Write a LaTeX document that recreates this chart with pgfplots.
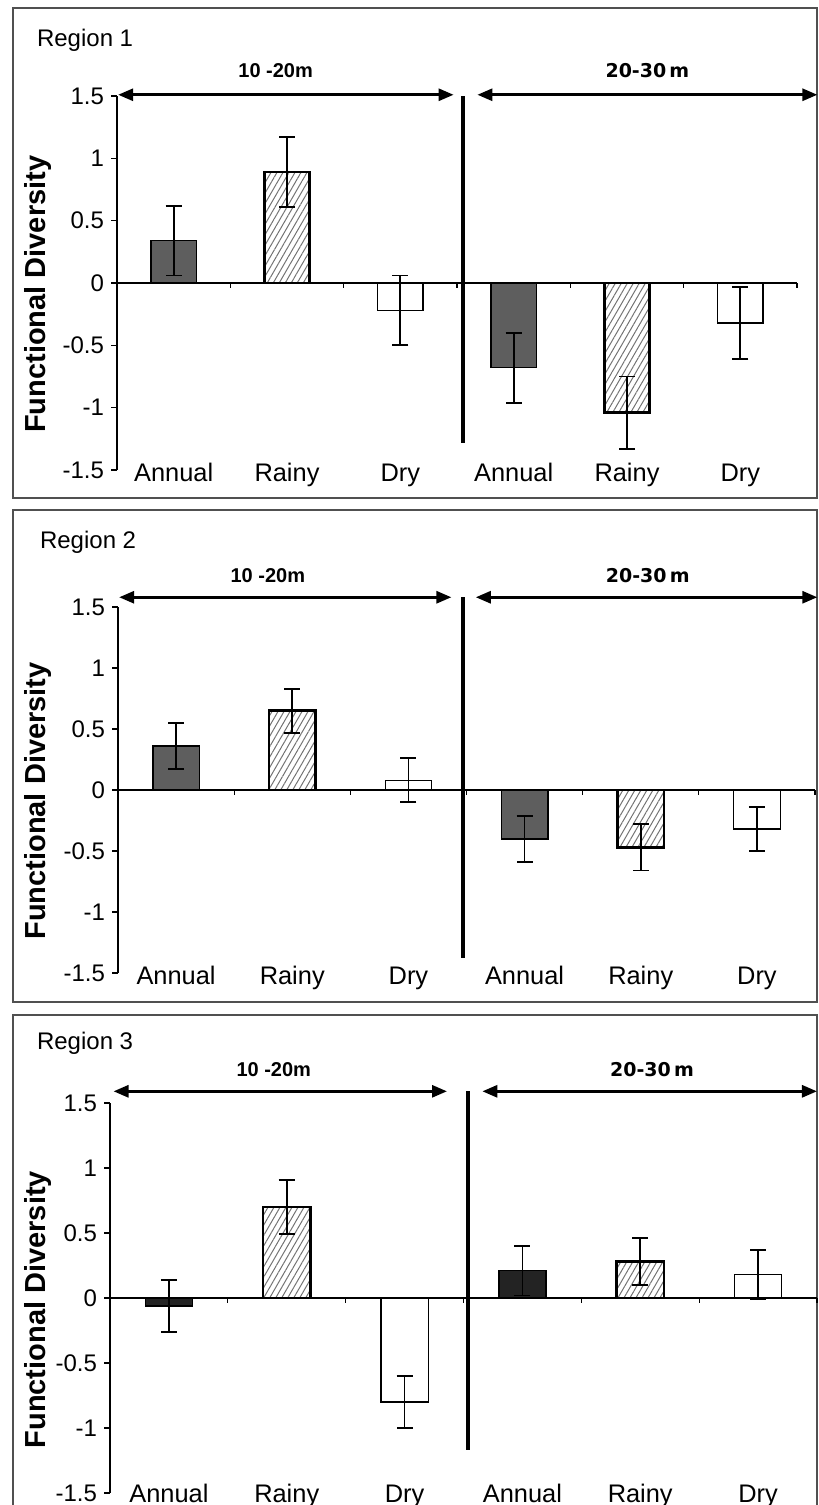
\documentclass[border=0pt]{standalone}
\usepackage{pgfplots}
\pgfplotsset{compat=1.18}
\usepackage{fontspec}
\setmainfont{Liberation Sans}
\newfontfamily\dejavu{DejaVu Sans}
\usetikzlibrary{arrows.meta,patterns.meta,calc}

\definecolor{annualgray}{HTML}{5E5E5E}
\definecolor{annualdark}{HTML}{232323}
\definecolor{boxgray}{HTML}{505050}

\tikzset{
  sep/.style={line width=2pt},
  span/.style={line width=1.4pt, {Triangle[length=7.5pt,width=6pt]}-{Triangle[length=7.5pt,width=6pt]}},
  lefttag/.style={font=\bfseries\fontsize{10}{12}\selectfont},
  righttag/.style={font=\dejavu\bfseries\fontsize{9.5}{12}\selectfont},
}

\pgfplotsset{
  fdpanel/.style={
    anchor=south west, scale only axis,
    xmin=-0.5, xmax=5.5, ymin=-1.5, ymax=1.5,
    axis y line*=left, axis x line*=bottom,
    x axis line style={draw=none},
    xtick={0,...,5},
    xticklabels={Annual,Rainy,Dry,Annual,Rainy,Dry},
    xtick style={draw=none},
    xticklabel style={font=\fontsize{12.7}{14}\selectfont, anchor=base, yshift=-2.5pt},
    ytick={-1.5,-1,-0.5,0,0.5,1,1.5},
    yticklabels={-1.5,-1,-0.5,0,0.5,1,1.5},
    yticklabel style={font=\fontsize{12}{14}\selectfont},
    y axis line style={line width=0.6pt},
    ytick style={line width=0.6pt, black},
    tick align=outside, major tick length=3pt,
    ylabel={Functional Diversity},
    ybar, bar width=0.4, bar shift=0pt,
    clip=false,
    error bars/y dir=both, error bars/y explicit,
    error bars/error bar style={line width=0.9pt, black, solid},
    error bars/error mark options={rotate=90, mark size=4pt, line width=0.9pt, black},
  },
  annualbar/.style={fill=annualgray, draw=black, line width=0.7pt},
  rainybar/.style={draw=black, line width=1.3pt, pattern={Lines[angle=60,distance=2.6pt,line width=0.5pt]}, pattern color=gray!90!black},
  drybar/.style={fill=white, draw=black, line width=0.6pt},
}

\begin{document}
\begin{tikzpicture}
\useasboundingbox (0pt,0pt) rectangle (409.5pt,-752.5pt);

% panel frames
\draw[boxgray, line width=1pt] (6.5pt,-4pt) rectangle (408.5pt,-249pt);
\draw[boxgray, line width=1pt] (6.5pt,-255pt) rectangle (408.5pt,-501pt);
\draw[boxgray, line width=1pt] (6.5pt,-752.5pt) -- (6.5pt,-507.5pt) -- (408.5pt,-507.5pt) -- (408.5pt,-752.5pt);

\node[anchor=west, font=\fontsize{12}{14}\selectfont] at (15pt,-20pt) {Region 1};
\node[anchor=west, font=\fontsize{12}{14}\selectfont] at (16.5pt,-271pt) {Region 2};
\node[anchor=west, font=\fontsize{12}{14}\selectfont] at (15pt,-521.5pt) {Region 3};

% Region 1
\begin{axis}[fdpanel, at={(58.5pt,-235pt)}, width=340pt, height=187pt,
  ylabel style={at={($(axis description cs:0,0.47)+(-39.5pt,0)$)}, anchor=center, font=\bfseries\fontsize{14.5}{16}\selectfont}]
  \draw[line width=0.6pt] (axis cs:-0.5,0) -- (axis cs:5.5,0);
  \pgfplotsinvokeforeach{0.5,1.5,2.5,3.5,4.5,5.5}{\draw[line width=0.6pt] (axis cs:#1,0) -- ++(0pt,-2.5pt);}
  \addplot[annualbar] coordinates {(0,0.34) +- (0,0.28) (3,-0.68) +- (0,0.28)};
  \addplot[rainybar] coordinates {(1,0.89) +- (0,0.28) (4,-1.04) +- (0,0.29)};
  \addplot[drybar] coordinates {(2,-0.22) +- (0,0.28) (5,-0.32) +- (0,0.29)};
  \draw[sep] (axis cs:2.55,1.5) -- (axis cs:2.55,-1.28);
  \draw[span] (axis cs:-0.49,1.51) -- (axis cs:2.47,1.51);
  \draw[span] (axis cs:2.68,1.51) -- (axis cs:5.68,1.51);
  \node[lefttag] at (axis cs:0.90,1.70) {10 -20m};
  \node[righttag] at (axis cs:4.18,1.70) {20-30\,m};
\end{axis}

% Region 2
\begin{axis}[fdpanel, at={(59pt,-486.5pt)}, width=348.5pt, height=183pt,
  ylabel style={at={($(axis description cs:0,0.47)+(-40pt,0)$)}, anchor=center, font=\bfseries\fontsize{14.5}{16}\selectfont}]
  \draw[line width=0.6pt] (axis cs:-0.5,0) -- (axis cs:5.5,0);
  \pgfplotsinvokeforeach{0.5,1.5,2.5,3.5,4.5,5.5}{\draw[line width=0.6pt] (axis cs:#1,0) -- ++(0pt,-2.5pt);}
  \addplot[annualbar] coordinates {(0,0.36) +- (0,0.19) (3,-0.40) +- (0,0.19)};
  \addplot[rainybar] coordinates {(1,0.65) +- (0,0.18) (4,-0.47) +- (0,0.19)};
  \addplot[drybar] coordinates {(2,0.08) +- (0,0.18) (5,-0.32) +- (0,0.18)};
  \draw[sep] (axis cs:2.47,1.58) -- (axis cs:2.47,-1.38);
  \draw[span] (axis cs:-0.49,1.58) -- (axis cs:2.37,1.58);
  \draw[span] (axis cs:2.58,1.58) -- (axis cs:5.52,1.58);
  \node[lefttag] at (axis cs:0.79,1.76) {10 -20m};
  \node[righttag] at (axis cs:4.06,1.76) {20-30\,m};
\end{axis}

% Region 3
\begin{axis}[fdpanel, at={(55pt,-746.5pt)}, width=353.5pt, height=195pt,
  xticklabel style={yshift=1pt},
  ylabel style={at={($(axis description cs:0,0.47)+(-36pt,0)$)}, anchor=center, font=\bfseries\fontsize{14.5}{16}\selectfont}]
  \draw[line width=0.6pt] (axis cs:-0.5,0) -- (axis cs:5.5,0);
  \pgfplotsinvokeforeach{0.5,1.5,2.5,3.5,4.5,5.5}{\draw[line width=0.6pt] (axis cs:#1,0) -- ++(0pt,-2.5pt);}
  \addplot[annualbar, fill=annualdark] coordinates {(0,-0.06) +- (0,0.20) (3,0.21) +- (0,0.19)};
  \addplot[rainybar] coordinates {(1,0.70) +- (0,0.21) (4,0.28) +- (0,0.18)};
  \addplot[drybar] coordinates {(2,-0.80) +- (0,0.20) (5,0.18) +- (0,0.19)};
  \draw[sep] (axis cs:2.54,1.59) -- (axis cs:2.54,-1.17);
  \draw[span] (axis cs:-0.47,1.59) -- (axis cs:2.36,1.59);
  \draw[span] (axis cs:2.66,1.59) -- (axis cs:5.50,1.59);
  \node[lefttag] at (axis cs:0.89,1.76) {10 -20m};
  \node[righttag] at (axis cs:4.10,1.76) {20-30\,m};
\end{axis}
\end{tikzpicture}
\end{document}
